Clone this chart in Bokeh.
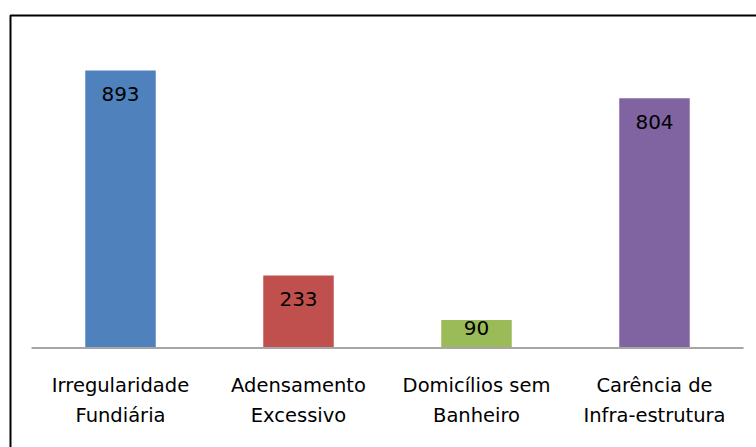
from bokeh.plotting import figure
from bokeh.models import Range1d, ColumnDataSource
from bokeh.core.properties import value
from bokeh.embed import file_html
from bokeh.resources import INLINE

# ---- data ----
categories_line1 = ["Irregularidade", "Adensamento", "Domicílios sem", "Carência de"]
categories_line2 = ["Fundiária", "Excessivo", "Banheiro", "Infra-estrutura"]
values = [893, 233, 90, 804]
colors = ["#4F81BD", "#C0504D", "#9BBB59", "#8064A2"]

# ---- layout (pixel geometry of the canvas) ----
W, H = 756, 447
AX_LEFT, AX_RIGHT = 31.0, 743.0      # pixel extent of category axis
BASE_PX = 347.5                       # pixel row of value 0
PX_PER_UNIT = 277.5 / 893.0           # vertical scale
n = len(values)
px_per_cat = (AX_RIGHT - AX_LEFT) / n

x_start = -AX_LEFT / px_per_cat
x_end = (W - AX_LEFT) / px_per_cat
y_start = -(H - BASE_PX) / PX_PER_UNIT
y_end = BASE_PX / PX_PER_UNIT

def px2x(px):
    return (px - AX_LEFT) / px_per_cat

def py2y(py):
    return (BASE_PX - py) / PX_PER_UNIT

p = figure(width=W, height=H, output_backend="svg", toolbar_location=None,
           x_range=Range1d(x_start, x_end), y_range=Range1d(y_start, y_end),
           min_border=0, min_border_left=0, min_border_right=0,
           min_border_top=0, min_border_bottom=0)
p.xaxis.visible = False
p.yaxis.visible = False
p.xgrid.visible = False
p.ygrid.visible = False
p.outline_line_color = None
p.background_fill_color = "white"
p.border_fill_color = "white"

xs = [i + 0.5 for i in range(n)]
bar_px = [v * PX_PER_UNIT for v in values]
offsets = [23.5 if b > 45 else b * 0.27 for b in bar_px]

src = ColumnDataSource(dict(x=xs, top=values, color=colors,
                            label=[str(v) for v in values], off=offsets,
                            l1=categories_line1, l2=categories_line2,
                            zero=[0] * n))

p.vbar(x="x", top="top", bottom=0, width=0.396, fill_color="color",
       line_color=None, source=src)

# axis line
p.line([0, n], [0, 0], line_color="#A6A6A6", line_width=2)

# value labels
p.text(x="x", y="top", text="label", y_offset="off", source=src,
       text_align="center", text_baseline="middle",
       text_font=value("DejaVu Sans"), text_font_size="20px",
       text_color="black")

# category labels
p.text(x="x", y="zero", text="l1", y_offset=37.5, source=src,
       text_align="center", text_baseline="middle",
       text_font=value("DejaVu Sans"), text_font_size="19.5px",
       text_color="black")
p.text(x="x", y="zero", text="l2", y_offset=67.5, source=src,
       text_align="center", text_baseline="middle",
       text_font=value("DejaVu Sans"), text_font_size="19.5px",
       text_color="black")

# outer chart border (left and top edges visible)
p.line([px2x(10), px2x(10), px2x(W + 10)],
       [py2y(H + 10), py2y(15), py2y(15)],
       line_color="black", line_width=2)

open("out.html", "w").write(file_html(p, INLINE))
